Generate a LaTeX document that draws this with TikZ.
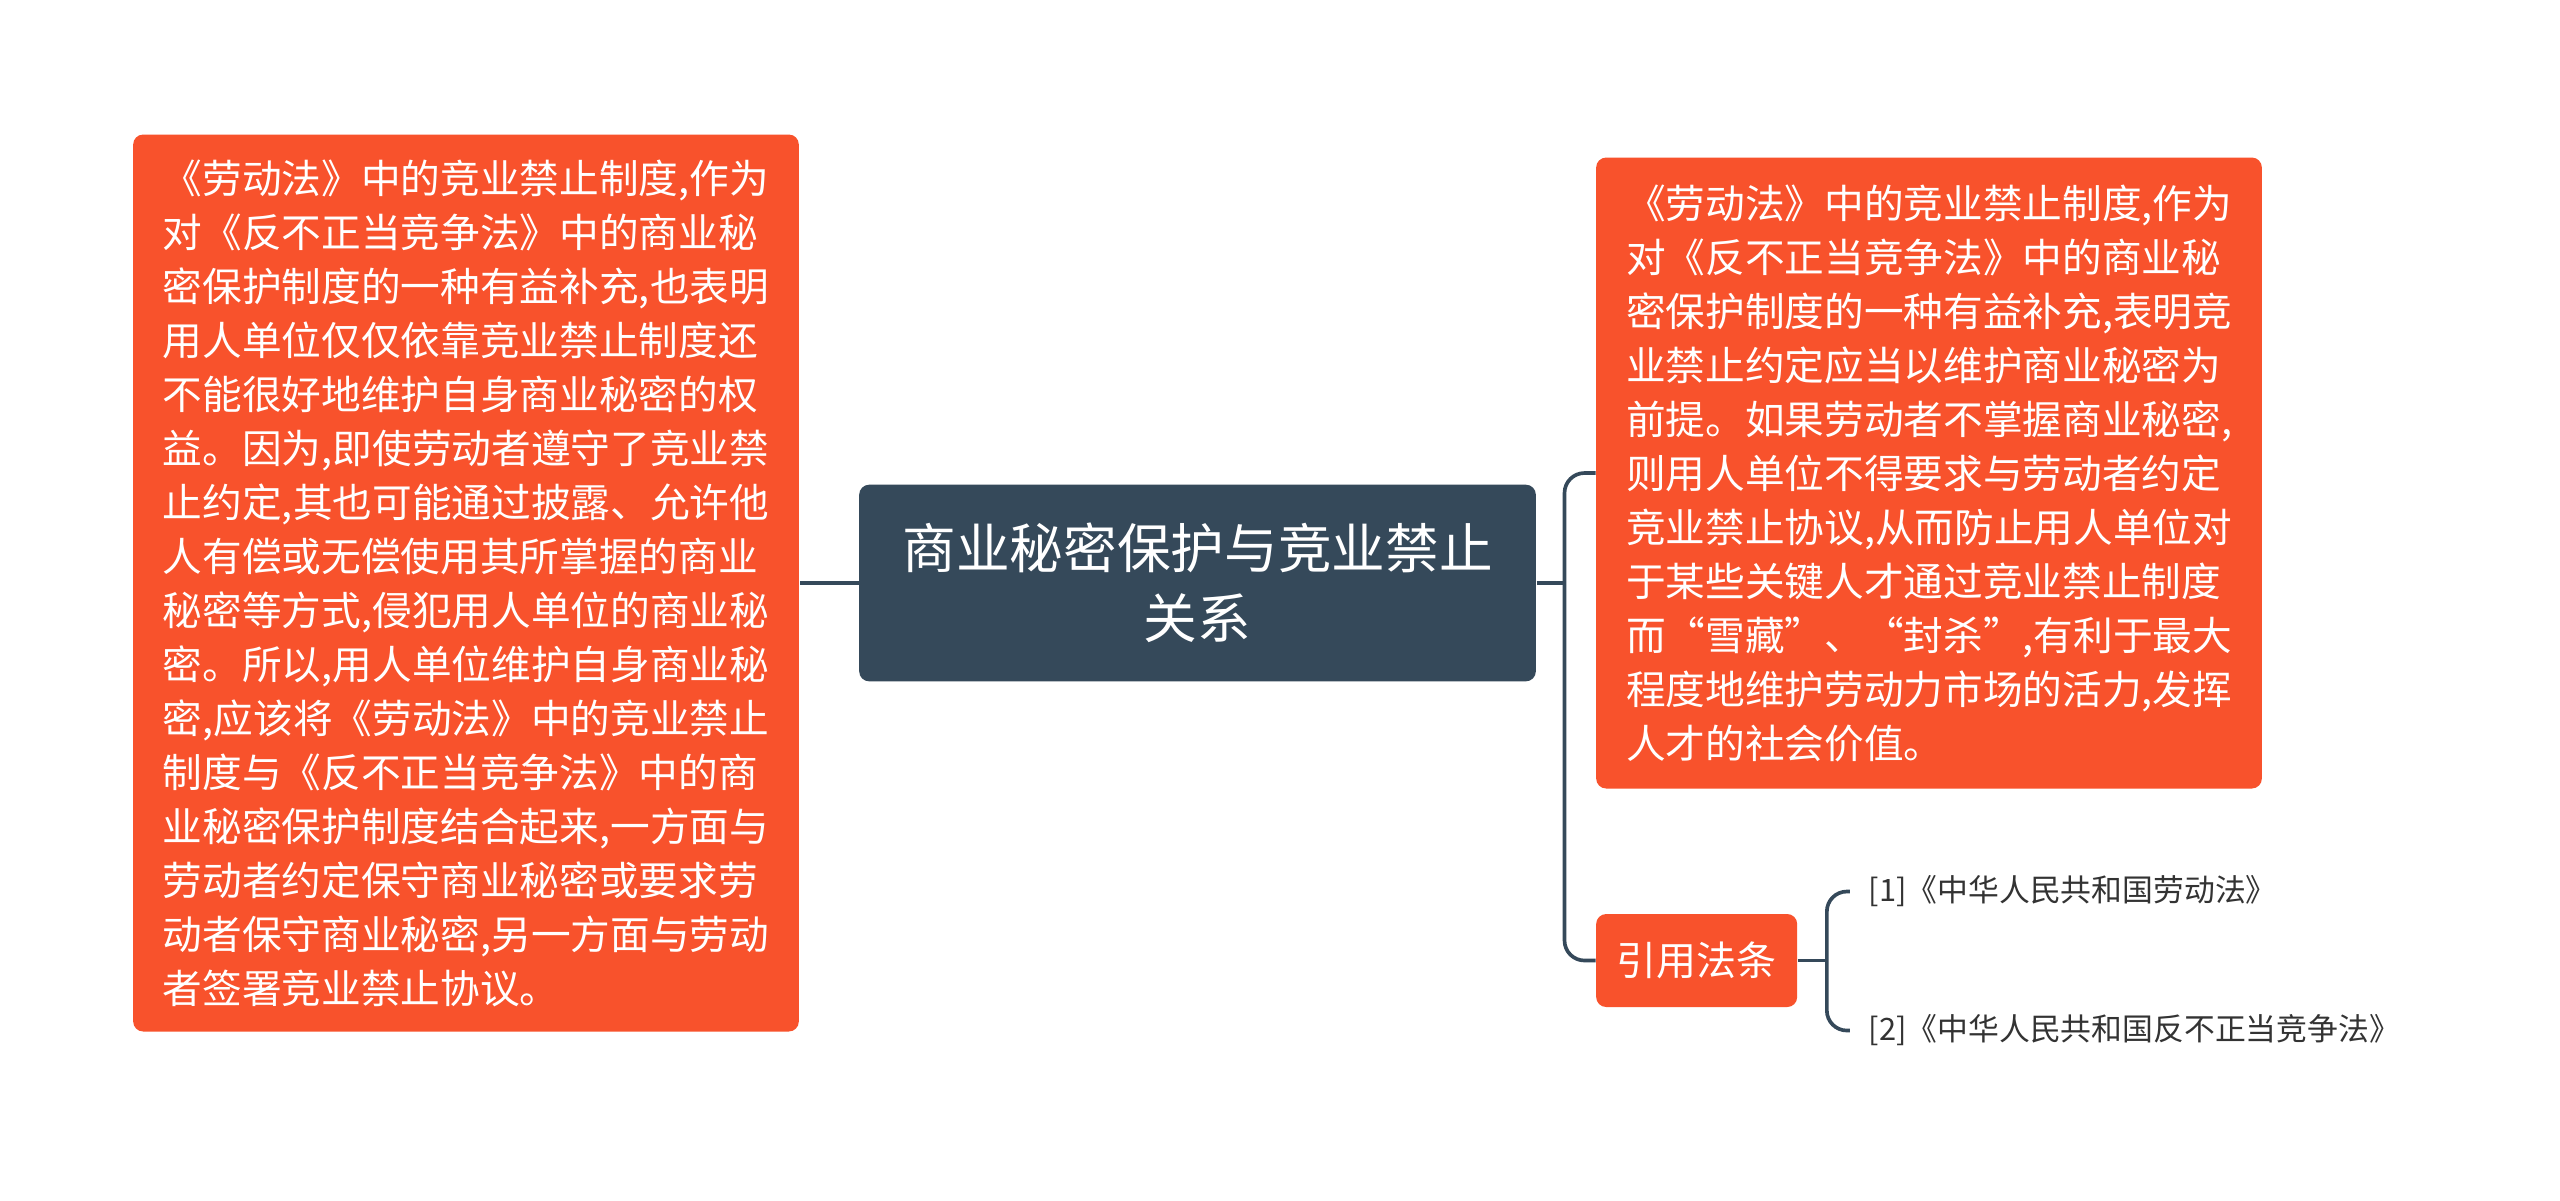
\documentclass[tikz,border=0pt]{standalone}
\usepackage{fontspec}
\newfontfamily\cjk{Noto Sans CJK SC}
\usepackage{tikz}
\usetikzlibrary{positioning}
\definecolor{boxred}{RGB}{248,82,44}
\definecolor{slate}{RGB}{53,73,90}
\definecolor{reftext}{RGB}{51,51,51}

\begin{document}
\begin{tikzpicture}[
			node distance={17.7pt},
			link/.style = {draw=slate, line width=1.1pt, rounded corners=6pt},
			topic/.style = {fill=slate, text=white, rounded corners=3pt, align=center, inner sep=0pt,
				minimum width=203pt, minimum height=59pt, font=\cjk\fontsize{16.1}{21}\selectfont},
			main/.style = {fill=boxred, text=white, rounded corners=3pt, align=left, inner sep=0pt,
				minimum width=199.7pt, font=\cjk\fontsize{11.9}{16.2}\selectfont},
			citebox/.style = {fill=boxred, text=white, rounded corners=3pt, inner sep=0pt,
				minimum width=60.3pt, minimum height=27.9pt, font=\cjk\fontsize{12}{16.2}\selectfont},
			leaf/.style = {text=reftext, inner xsep=5.5pt, inner ysep=2pt, font=\cjk\fontsize{9.25}{12}\selectfont}
		]
		\path[fill=white] (0,0) rectangle (768pt,-360pt);
		\node[topic] (title) at (359.25pt,-174.9pt) {商业秘密保护与竞业禁止\\关系};
		\node[main, minimum height=269.1pt] (lbox) [left=of title] {《劳动法》中的竞业禁止制度,作为\\对《反不正当竞争法》中的商业秘\\密保护制度的一种有益补充,也表明\\用人单位仅仅依靠竞业禁止制度还\\不能很好地维护自身商业秘密的权\\益。因为,即使劳动者遵守了竞业禁\\止约定,其也可能通过披露、允许他\\人有偿或无偿使用其所掌握的商业\\秘密等方式,侵犯用人单位的商业秘\\密。所以,用人单位维护自身商业秘\\密,应该将《劳动法》中的竞业禁止\\制度与《反不正当竞争法》中的商\\业秘密保护制度结合起来,一方面与\\劳动者约定保守商业秘密或要求劳\\动者保守商业秘密,另一方面与劳动\\者签署竞业禁止协议。};
		\node[main, minimum height=189.3pt] (rbox) [right=of title, yshift=33pt] {《劳动法》中的竞业禁止制度,作为\\对《反不正当竞争法》中的商业秘\\密保护制度的一种有益补充,表明竞\\业禁止约定应当以维护商业秘密为\\前提。如果劳动者不掌握商业秘密,\\则用人单位不得要求与劳动者约定\\竞业禁止协议,从而防止用人单位对\\于某些关键人才通过竞业禁止制度\\而“雪藏”、“封杀”,有利于最大\\程度地维护劳动力市场的活力,发挥\\人才的社会价值。};
		\node[citebox] (cite) [right=of title, yshift=-113.25pt] {引用法条};
		\node[leaf] (ref1) [right=15.6pt of cite, yshift=20.7pt] {[1]《中华人民共和国劳动法》};
		\node[leaf] (ref2) [right=15.6pt of cite, yshift=-21pt] {[2]《中华人民共和国反不正当竞争法》};
		% Draw the branch lines.
		\coordinate [right=8.4pt of title.east] (jr);
		\coordinate [right=8.7pt of cite.east] (jc);
		\draw[link] (title.west) -- (lbox.east);
		\draw[link] (title.east) -- (jr);
		\draw[link] (rbox.west) -| (jr) |- (cite.west);
		% Draw the citation lines.
		\draw[link] (cite.east) -- (jc);
		\draw[link] (ref1.west) -| (jc) |- (ref2.west);
	\end{tikzpicture}
\end{document}
